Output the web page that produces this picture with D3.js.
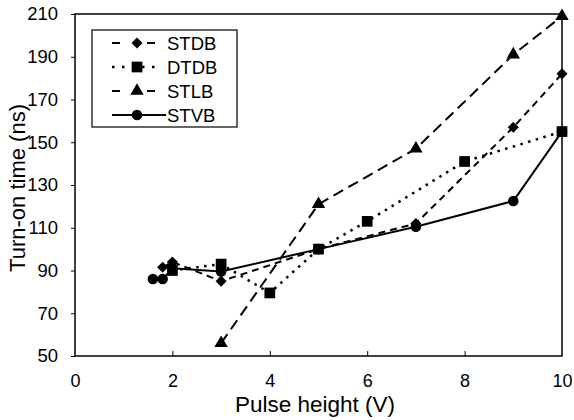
<!DOCTYPE html>
<meta charset="utf-8">
<style>
    body { margin: 0; background: #fff; }
    text { font-family: "Liberation Sans", Arial, sans-serif; fill: #000; }
</style>
<svg width="574" height="420"></svg>
<script src="https://d3js.org/d3.v7.min.js"></script>
<script>
    // series data
    var stdbX = [1.8, 2, 3, 5, 7, 9, 10];
    var stdbY = [91.5, 94, 85, 100, 112, 157, 182];
    var dtdbX = [2, 3, 4, 5, 6, 8, 10];
    var dtdbY = [90, 93, 79.5, 100, 113, 141, 155];
    var stlbX = [3, 5, 7, 9, 10];
    var stlbY = [56, 121, 147, 191, 209];
    var stvbX = [1.6, 1.8, 2, 3, 5, 7, 9, 10];
    var stvbY = [86, 86, 91, 89.5, 100, 110.5, 122.5, 155];
    var xTicks = [0, 2, 4, 6, 8, 10];
    var yTicks = [50, 70, 90, 110, 130, 150, 170, 190, 210];

    var series = [
        { name: "STDB", xs: stdbX, ys: stdbY, dash: "7,5", legDash: "8,27", sym: d3.symbolSquare, size: 62, rot: 45 },
        { name: "DTDB", xs: dtdbX, ys: dtdbY, dash: "2.5,5.5", legDash: "2.5,7.5", sym: d3.symbolSquare, size: 115, rot: 0 },
        { name: "STLB", xs: stlbX, ys: stlbY, dash: "11,6", legDash: "8,27", sym: d3.symbolTriangle, size: 78, rot: 0 },
        { name: "STVB", xs: stvbX, ys: stvbY, dash: null, legDash: null, sym: d3.symbolCircle, size: 88, rot: 0 }
    ];

    var svg = d3.select("svg");
    var plotL = 75, plotR = 562, plotT = 14, plotB = 356;

    var x = d3.scaleLinear().domain([0, 10]).range([plotL, plotR]);
    var y = d3.scaleLinear().domain([50, 210]).range([plotB, plotT]);

    // frame
    svg.append("rect")
        .attr("x", plotL).attr("y", plotT)
        .attr("width", plotR - plotL).attr("height", plotB - plotT)
        .attr("fill", "none").attr("stroke", "#000").attr("stroke-width", 1.5);

    // x axis, ticks pointing in
    var xAxis = svg.append("g").attr("transform", "translate(0," + plotB + ")")
        .call(d3.axisBottom(x).tickValues(xTicks).tickSizeInner(-5).tickSizeOuter(0).tickPadding(18));
    xAxis.select(".domain").remove();
    xAxis.selectAll("line").attr("stroke-width", 1);
    xAxis.selectAll(".tick").filter(function (d) { return d === 0 || d === 10; }).select("line").remove();
    xAxis.selectAll("text").style("font-size", "18px").attr("font-family", null);

    // y axis, ticks pointing out
    var yAxis = svg.append("g").attr("transform", "translate(" + plotL + ",0)")
        .call(d3.axisLeft(y).tickValues(yTicks).tickSizeInner(4).tickSizeOuter(0).tickPadding(13));
    yAxis.select(".domain").remove();
    yAxis.selectAll("line").attr("stroke-width", 1);
    yAxis.selectAll("text").style("font-size", "18.5px").attr("font-family", null);

    // axis titles
    svg.append("text")
        .attr("x", 315).attr("y", 412)
        .attr("text-anchor", "middle").style("font-size", "22.5px")
        .text("Pulse height (V)");
    svg.append("text")
        .attr("transform", "translate(25,188) rotate(-90)")
        .attr("text-anchor", "middle").style("font-size", "22px")
        .text("Turn-on time (ns)");

    var line = d3.line().x(function (d) { return x(d[0]); }).y(function (d) { return y(d[1]); });

    series.forEach(function (s) {
        var pts = s.xs.map(function (v, i) { return [v, s.ys[i]]; });
        svg.append("path")
            .datum(pts)
            .attr("d", line)
            .attr("fill", "none").attr("stroke", "#000")
            .attr("stroke-width", s.name === "DTDB" ? 2.5 : 2)
            .attr("stroke-dasharray", s.dash);
        svg.selectAll(null).data(pts).enter().append("path")
            .attr("d", d3.symbol().type(s.sym).size(s.size))
            .attr("transform", function (d) { return "translate(" + x(d[0]) + "," + y(d[1]) + ") rotate(" + s.rot + ")"; })
            .attr("fill", "#000");
    });

    // legend
    var lg = svg.append("g");
    lg.append("rect")
        .attr("x", 92).attr("y", 30).attr("width", 145).attr("height", 97)
        .attr("fill", "#fff").attr("stroke", "#000").attr("stroke-width", 1.2);
    series.forEach(function (s, i) {
        var ly = 43 + i * 24;
        lg.append("line")
            .attr("x1", 112).attr("x2", s.legDash ? 160 : 166).attr("y1", ly).attr("y2", ly)
            .attr("stroke", "#000").attr("stroke-width", s.name === "DTDB" ? 2.5 : 2)
            .attr("stroke-dasharray", s.legDash);
        lg.append("path")
            .attr("d", d3.symbol().type(s.sym).size(s.size))
            .attr("transform", "translate(137," + ly + ") rotate(" + s.rot + ")")
            .attr("fill", "#000");
        lg.append("text")
            .attr("x", 167).attr("y", ly + 6.5)
            .style("font-size", "18.5px")
            .text(s.name);
    });
</script>
